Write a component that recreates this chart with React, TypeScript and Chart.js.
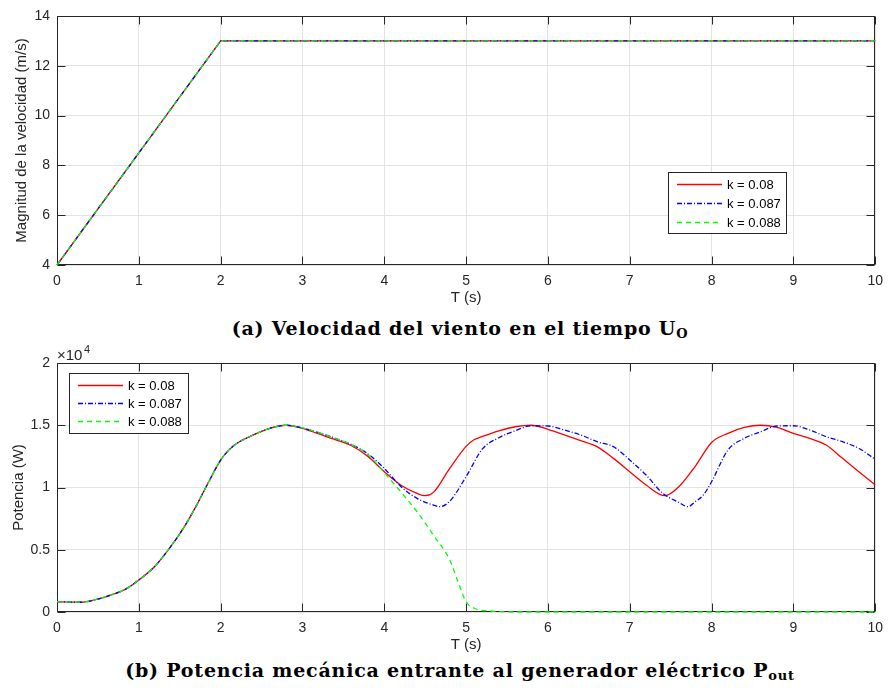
import React, { useEffect, useRef } from "react";
import { Chart, registerables } from "chart.js";

Chart.register(...registerables);

// ---------- data ----------
const seriesLabels = ["k = 0.08", "k = 0.087", "k = 0.088"];
const seriesColors = ["#ff0000", "#0000ff", "#00ff00"];
const seriesDashes: number[][] = [[], [5, 2, 1, 2], [5, 4]];

const windTime = [0, 2, 10];
const windK008 = [4, 13, 13];
const windK0087 = [4, 13, 13];
const windK0088 = [4, 13, 13];

const powerTimeK008 = [0, 0.2, 0.3, 0.45, 0.7, 0.85, 1.0, 1.2, 1.4, 1.55, 1.7, 1.85, 2.0, 2.1, 2.2, 2.4, 2.6, 2.8, 3.0, 3.2, 3.4, 3.6, 3.8, 4.0, 4.2, 4.4, 4.5, 4.6, 4.8, 5.0, 5.1, 5.2, 5.4, 5.6, 5.8, 6.0, 6.2, 6.4, 6.6, 6.8, 7.0, 7.2, 7.43, 7.6, 7.8, 8.0, 8.2, 8.4, 8.6, 8.8, 9.0, 9.2, 9.4, 9.6, 9.8, 10.0];
const powerK008 = [830, 795, 785, 950, 1450, 1880, 2570, 3700, 5350, 6780, 8500, 10400, 12200, 13000, 13550, 14220, 14750, 15000, 14750, 14300, 13850, 13350, 12500, 11270, 10200, 9530, 9340, 9610, 11540, 13300, 13850, 14100, 14550, 14880, 15000, 14670, 14220, 13760, 13280, 12340, 11270, 10200, 9340, 10060, 11700, 13620, 14350, 14830, 15000, 14830, 14350, 13950, 13410, 12340, 11270, 10200];

const powerTimeK0087 = [0, 0.2, 0.3, 0.45, 0.7, 0.85, 1.0, 1.2, 1.4, 1.55, 1.7, 1.85, 2.0, 2.1, 2.2, 2.4, 2.6, 2.8, 3.0, 3.2, 3.4, 3.6, 3.8, 4.0, 4.2, 4.4, 4.6, 4.68, 4.8, 5.0, 5.2, 5.4, 5.6, 5.8, 6.0, 6.2, 6.4, 6.6, 6.8, 7.0, 7.2, 7.4, 7.6, 7.71, 7.8, 7.9, 8.0, 8.2, 8.4, 8.6, 8.8, 9.0, 9.2, 9.4, 9.6, 9.8, 10.0];
const powerK0087 = [830, 795, 785, 950, 1450, 1880, 2570, 3700, 5350, 6780, 8500, 10400, 12200, 13000, 13550, 14220, 14750, 15000, 14780, 14400, 13950, 13450, 12700, 11540, 10100, 9130, 8590, 8460, 8900, 10870, 13100, 14000, 14560, 14960, 14940, 14620, 14220, 13680, 13280, 12210, 11000, 9550, 8800, 8460, 8860, 9400, 10460, 13010, 13950, 14480, 14940, 14960, 14620, 14080, 13680, 13150, 12260];

const powerTimeK0088 = [0, 0.2, 0.3, 0.45, 0.7, 0.85, 1.0, 1.2, 1.4, 1.55, 1.7, 1.85, 2.0, 2.1, 2.2, 2.4, 2.6, 2.8, 3.0, 3.2, 3.4, 3.6, 3.8, 4.0, 4.2, 4.4, 4.6, 4.8, 4.9, 5.0, 5.1, 5.3, 5.6, 10.0];
const powerK0088 = [830, 795, 785, 950, 1450, 1880, 2570, 3700, 5350, 6780, 8500, 10400, 12200, 13000, 13550, 14220, 14750, 15000, 14780, 14400, 13950, 13450, 12650, 11200, 9660, 8060, 6180, 4180, 2440, 830, 300, 80, 0, 0];

const windYTitle = "Magnitud de la velocidad (m/s)";
const powerYTitle = "Potencia (W)";
const xTitle = "T (s)";
const captionA = "(a) Velocidad del viento en el tiempo U";
const captionASub = "O";
const captionB = "(b) Potencia mecánica entrante al generador eléctrico P";
const captionBSub = "out";

// ---------- styling ----------
const FONT = "'Liberation Sans', Arial, Helvetica, sans-serif";
const TEXT = "#262626";
const GRID = "#e3e3e3";

const zip = (xs: number[], ys: number[]) => xs.map((x, i) => ({ x, y: ys[i] }));

const framePlugin = {
  id: "matlabFrame",
  beforeDatasetsDraw(chart: any) {
    const { ctx, chartArea, scales } = chart;
    const { left, right, top, bottom } = chartArea;
    const L = Math.round(left) + 0.5;
    const R = Math.round(right) - 0.5;
    const T = Math.round(top) + 0.5;
    const B = Math.round(bottom) - 0.5;
    ctx.save();
    ctx.strokeStyle = TEXT;
    ctx.lineWidth = 1;
    ctx.beginPath();
    const tl = 8;
    scales.x.ticks.forEach((t: any) => {
      const px = Math.round(scales.x.getPixelForValue(t.value)) + 0.5;
      ctx.moveTo(px, B);
      ctx.lineTo(px, B - tl);
      ctx.moveTo(px, T);
      ctx.lineTo(px, T + tl);
    });
    scales.y.ticks.forEach((t: any) => {
      const py = Math.round(scales.y.getPixelForValue(t.value)) + 0.5;
      ctx.moveTo(L, py);
      ctx.lineTo(L + tl, py);
      ctx.moveTo(R, py);
      ctx.lineTo(R - tl, py);
    });
    ctx.stroke();
    ctx.strokeRect(L, T, R - L, B - T);
    ctx.restore();
  },
  afterDatasetsDraw(chart: any, _args: any, opts: any) {
    const { ctx } = chart;
    ctx.save();
    const lg = opts.legend;
    if (lg) {
      ctx.fillStyle = "#ffffff";
      ctx.fillRect(lg.x, lg.y, lg.w, lg.h);
      ctx.strokeStyle = TEXT;
      ctx.lineWidth = 1;
      ctx.strokeRect(lg.x + 0.5, lg.y + 0.5, lg.w, lg.h);
      chart.data.datasets.forEach((ds: any, i: number) => {
        const ry = lg.rowY0 + i * lg.rowGap;
        ctx.save();
        ctx.strokeStyle = ds.borderColor;
        ctx.lineWidth = ds.borderWidth;
        ctx.setLineDash(ds.borderDash || []);
        ctx.beginPath();
        ctx.moveTo(lg.s1, ry + 0.5);
        ctx.lineTo(lg.s2, ry + 0.5);
        ctx.stroke();
        ctx.restore();
        ctx.fillStyle = "#000000";
        ctx.font = `13px ${FONT}`;
        ctx.textBaseline = "middle";
        ctx.textAlign = "left";
        ctx.fillText(ds.label, lg.tx, ry + 1);
      });
    }
    const ex = opts.exponent;
    if (ex) {
      ctx.fillStyle = TEXT;
      ctx.textBaseline = "alphabetic";
      ctx.textAlign = "left";
      ctx.font = `15px ${FONT}`;
      ctx.fillText("×10", ex.x, ex.y);
      ctx.font = `11px ${FONT}`;
      ctx.fillText(ex.power, ex.x + 27, ex.y - 7);
    }
    ctx.restore();
  },
};

function makeConfig(kind: "wind" | "power"): any {
  const isWind = kind === "wind";
  const times = isWind ? [windTime, windTime, windTime] : [powerTimeK008, powerTimeK0087, powerTimeK0088];
  const vals = isWind ? [windK008, windK0087, windK0088] : [powerK008, powerK0087, powerK0088];
  return {
    type: "line",
    data: {
      datasets: seriesLabels.map((label, i) => ({
        label,
        data: zip(times[i], vals[i]),
        borderColor: seriesColors[i],
        backgroundColor: seriesColors[i],
        borderWidth: 1.3,
        borderDash: seriesDashes[i],
        pointRadius: 0,
        fill: false,
        clip: 3,
        order: 3 - i,
        tension: isWind ? 0 : 0.4,
        cubicInterpolationMode: isWind ? "default" : "monotone",
      })),
    },
    options: {
      responsive: false,
      animation: false,
      events: [],
      layout: {
        padding: isWind ? { top: 16, right: 11, left: 0, bottom: 0 } : { top: 23, right: 11, left: 0, bottom: 0 },
      },
      plugins: {
        legend: { display: false },
        tooltip: { enabled: false },
        matlabFrame: isWind
          ? { legend: { x: 668, y: 172, w: 118, h: 61, rowY0: 184, rowGap: 19, s1: 677, s2: 722, tx: 727 } }
          : {
              legend: { x: 69, y: 33, w: 119, h: 60, rowY0: 45, rowGap: 18, s1: 78, s2: 123, tx: 128 },
              exponent: { x: 57, y: 20, power: "4" },
            },
      },
      scales: {
        x: {
          type: "linear",
          min: 0,
          max: 10,
          ticks: { stepSize: 1, color: TEXT, font: { family: FONT, size: 14 }, padding: 8, maxRotation: 0 },
          grid: { color: GRID, drawTicks: false, lineWidth: 1 },
          border: { display: false },
          title: {
            display: true,
            text: xTitle,
            color: TEXT,
            font: { family: FONT, size: 15 },
            padding: { top: 0, bottom: isWind ? 3 : 1 },
          },
          afterFit: (s: any) => {
            s.height = isWind ? 45 : 43;
          },
        },
        y: {
          type: "linear",
          min: isWind ? 4 : 0,
          max: isWind ? 14 : 20000,
          ticks: {
            stepSize: isWind ? 2 : 5000,
            color: TEXT,
            font: { family: FONT, size: 14 },
            padding: 7,
            callback: (v: number) => (isWind ? String(v) : String(v / 10000)),
          },
          grid: { color: GRID, drawTicks: false, lineWidth: 1 },
          border: { display: false },
          title: {
            display: true,
            text: isWind ? windYTitle : powerYTitle,
            color: TEXT,
            font: { family: FONT, size: 15 },
            padding: { top: isWind ? 12.5 : 10, bottom: 0 },
          },
          afterFit: (s: any) => {
            s.width = 57;
          },
        },
      },
    },
    plugins: [framePlugin],
  };
}

function ChartCanvas({ kind, top, height }: { kind: "wind" | "power"; top: number; height: number }) {
  const ref = useRef<HTMLCanvasElement | null>(null);
  useEffect(() => {
    if (!ref.current) return;
    const chart = new Chart(ref.current, makeConfig(kind));
    return () => chart.destroy();
  }, [kind]);
  return (
    <canvas
      ref={ref}
      width={891}
      height={height}
      style={{ position: "absolute", left: 0, top, width: 891, height }}
    />
  );
}

const captionStyle: React.CSSProperties = {
  position: "absolute",
  left: 29,
  width: 862,
  textAlign: "center",
  fontFamily: "'DejaVu Serif', 'Liberation Serif', serif",
  fontWeight: "bold",
  fontSize: 19,
  letterSpacing: "0.8px",
  color: "#000",
  lineHeight: "26px",
  whiteSpace: "nowrap",
};

export default function App() {
  return (
    <div style={{ position: "absolute", left: 0, top: 0, width: 891, height: 692, background: "#fff", overflow: "hidden" }}>
      <ChartCanvas kind="wind" top={0} height={310} />
      <div style={{ ...captionStyle, top: 315 }}>
        {captionA}
        <sub style={{ fontSize: 13, verticalAlign: "-3px" }}>{captionASub}</sub>
      </div>
      <ChartCanvas kind="power" top={340} height={315} />
      <div style={{ ...captionStyle, top: 657 }}>
        {captionB}
        <sub style={{ fontSize: 13, verticalAlign: "-3px" }}>{captionBSub}</sub>
      </div>
    </div>
  );
}
